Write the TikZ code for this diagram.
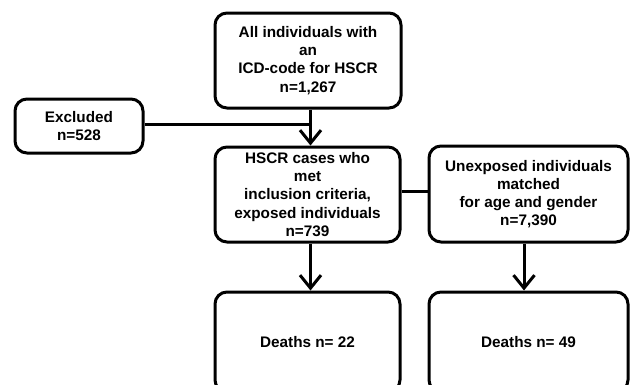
\documentclass[tikz,border=0pt]{standalone}
\usepackage{fontspec}
\setmainfont{Liberation Sans}
\usetikzlibrary{arrows.meta}
\begin{document}
\begin{tikzpicture}[x=1pt,y=-1pt,
  box/.style={draw=black, line width=3pt, rounded corners=12pt, align=center,
    inner sep=0pt, font=\fontsize{15.3}{18.2}\selectfont\bfseries},
  arr/.style={line width=3pt, -{Straight Barb[length=13pt,width=21pt,line width=3pt]}},
  conn/.style={line width=3pt}]
\clip (0,0) rectangle (631,384);
\fill[white] (0,0) rectangle (631,384);
\node[box, minimum width=186pt, minimum height=95pt] (top) at (308,60.5)
  {All individuals with\\an\\ICD-code for HSCR\\n=1,267};
\node[box, minimum width=128pt, minimum height=54pt] (excl) at (79,126)
  {Excluded\\n=528};
\node[box, minimum width=185pt, minimum height=95pt] (hscr) at (307.5,194.5)
  {HSCR cases who\\met\\inclusion criteria,\\exposed individuals\\n=739};
\node[box, minimum width=199pt, minimum height=96pt] (unexp) at (528.5,194)
  {Unexposed individuals\\matched\\for age and gender\\n=7,390};
\node[box, minimum width=185pt, minimum height=100pt] (d1) at (307.5,342)
  {Deaths n= 22};
\node[box, minimum width=199pt, minimum height=100pt] (d2) at (528.5,342)
  {Deaths n= 49};
\coordinate (j) at (310.5,124);
\draw[arr] ([xshift=2.5pt]top.south) -- ([xshift=3pt]hscr.north);
\draw[conn] (excl.east |- j) -- (j);
\draw[conn] ([yshift=3.5pt]hscr.east) -- ([yshift=3.5pt]hscr.east -| unexp.west);
\draw[arr] ([xshift=3pt]hscr.south) -- ([xshift=3pt]d1.north);
\draw[arr] ([xshift=-4.5pt]unexp.south) -- ([xshift=-4.5pt]d2.north);
\end{tikzpicture}
\end{document}
